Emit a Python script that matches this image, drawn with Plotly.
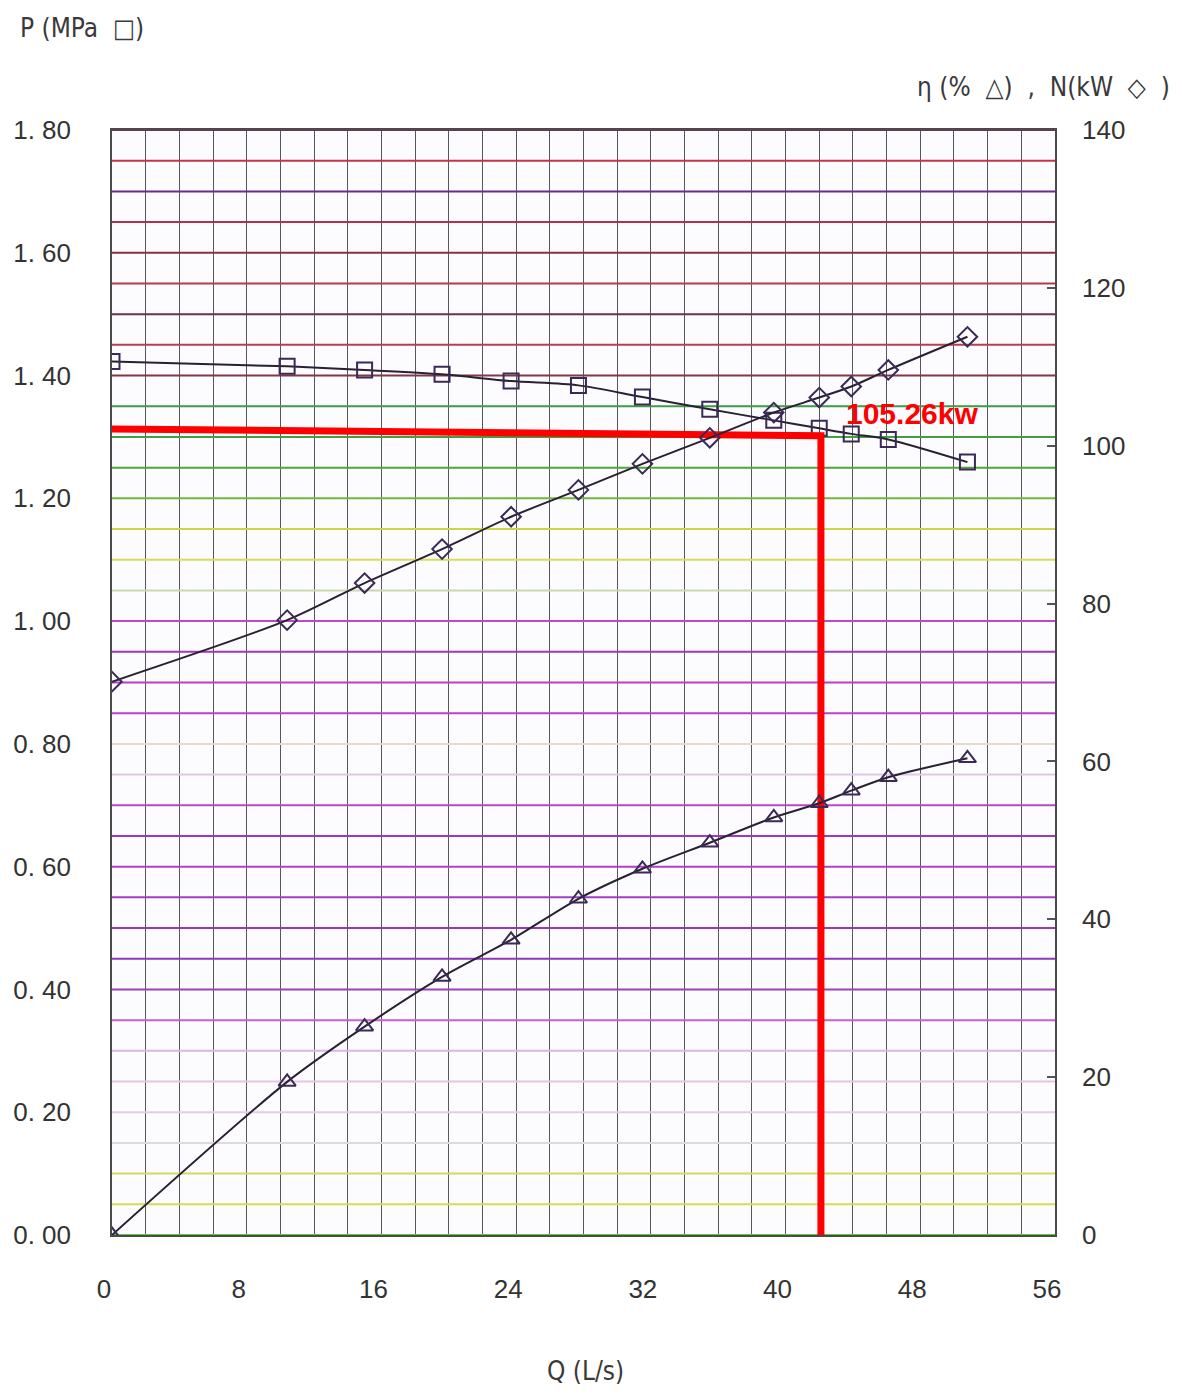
import numpy as np
import plotly.graph_objects as go

# ---- data ----
Q = [0, 10.4, 15.0, 19.6, 23.7, 27.7, 31.5, 35.5, 39.3, 42.0, 43.9, 46.1, 50.8]
P = [1.423, 1.415, 1.409, 1.402, 1.391, 1.384, 1.365, 1.345, 1.327, 1.314, 1.305, 1.296, 1.259]
N = [70.1, 77.9, 82.6, 86.9, 91.0, 94.4, 97.7, 101.0, 104.2, 106.1, 107.5, 109.6, 113.8]
ETA = [0, 19.4, 26.4, 32.7, 37.4, 42.6, 46.4, 49.7, 52.9, 54.7, 56.3, 58.0, 60.4]

# operating point guide
OP_X = [0, 42.1, 42.1]
OP_Y = [1.313, 1.302, 0.0]
OP_LABEL = "105.26kw"

X_TICKS = [0, 8, 16, 24, 32, 40, 48, 56]
Y_TICKS = [0.0, 0.2, 0.4, 0.6, 0.8, 1.0, 1.2, 1.4, 1.6, 1.8]
Y_TICK_TEXT = ["0. 00", "0. 20", "0. 40", "0. 60", "0. 80", "1. 00", "1. 20", "1. 40", "1. 60", "1. 80"]
Y2_TICKS = [0, 20, 40, 60, 80, 100, 120, 140]

# horizontal grid colours, bottom (0.00) to top (1.80), every 0.05
GRID_COLORS = [
    "#5cc83c", "#d6dc50", "#d4da5a", "#e0d8e0", "#e4cce6", "#e6c4e6", "#e0b4e4",
    "#c860d0", "#9a40b8", "#9038b8", "#9838b8", "#a040c0", "#b040c8", "#9c3cb8",
    "#b848c8", "#e0c8e4", "#e2dcc8", "#c040c8", "#b840c8", "#a038b8", "#c048c8",
    "#c8d8b0", "#d8dc58", "#c8d648", "#70b838", "#48a838", "#40a040", "#3c9c48",
    "#803848", "#b84050", "#6a3050", "#b83848", "#8a3040", "#b03050", "#6a2a8a",
    "#c8324a", "#7a2f5a",
]
GRID_LEVELS = np.round(np.arange(0, 1.80001, 0.05), 2)

LINE_C = "#2a2034"
MARK_C = "#3a2a55"
NB = "\u00a0"

fig = go.Figure()

for lvl, col in zip(GRID_LEVELS, GRID_COLORS):
    fig.add_shape(type="line", xref="x", yref="y", x0=0, x1=56, y0=lvl, y1=lvl,
                  line=dict(color=col, width=2), layer="between")

fig.add_trace(go.Scatter(x=Q, y=P, mode="lines+markers", yaxis="y",
                         line=dict(color=LINE_C, width=2, shape="spline", smoothing=0.8),
                         marker=dict(symbol="square-open", size=15, color=MARK_C, line=dict(width=2)),
                         showlegend=False))
fig.add_trace(go.Scatter(x=Q, y=N, mode="lines+markers", yaxis="y2",
                         line=dict(color=LINE_C, width=2, shape="spline", smoothing=0.8),
                         marker=dict(symbol="diamond-open", size=15, color=MARK_C, line=dict(width=2)),
                         showlegend=False))
fig.add_trace(go.Scatter(x=Q, y=ETA, mode="lines+markers", yaxis="y2",
                         line=dict(color=LINE_C, width=2, shape="spline", smoothing=0.8),
                         marker=dict(symbol="triangle-up-open", size=15, color=MARK_C, line=dict(width=2)),
                         showlegend=False))
fig.add_trace(go.Scatter(x=OP_X, y=OP_Y, mode="lines", yaxis="y",
                         line=dict(color="#ff0000", width=7), showlegend=False))

fig.add_annotation(x=47.5, y=1.339, xref="x", yref="y", text="<b>" + OP_LABEL + "</b>",
                   showarrow=False, font=dict(family="Liberation Sans, Arial", size=30, color="#ff0000"))

TITLE_FONT = dict(family="Liberation Sans Narrow, DejaVu Sans Condensed, Arial", size=26, color="#3a3a3a")
fig.add_annotation(x=(18 - 112) / 943, y=(1235 - 28) / 1105, xref="paper", yref="paper",
                   text="P (MPa" + NB + NB + "□)",
                   showarrow=False, xanchor="left", yanchor="middle", font=TITLE_FONT)
fig.add_annotation(x=(1172 - 112) / 943, y=(1235 - 87) / 1105, xref="paper", yref="paper",
                   text="η (%" + NB + NB + "△)" + NB + NB + "," + NB + NB + "N(kW" + NB + NB + "◇" + NB + NB + ")",
                   showarrow=False, xanchor="right", yanchor="middle", font=TITLE_FONT)
fig.add_annotation(x=(585 - 112) / 943, y=(1235 - 1371) / 1105, xref="paper", yref="paper",
                   text="Q (L/s)",
                   showarrow=False, xanchor="center", yanchor="middle", font=TITLE_FONT)

TICK_FONT = dict(family="Liberation Sans, Arial", size=26, color="#333333")

fig.update_layout(
    width=1166, height=1381,
    margin=dict(l=104, r=119, t=122, b=154, autoexpand=False),
    paper_bgcolor="#ffffff", plot_bgcolor="#fcfbfe",
    xaxis=dict(range=[0, 56], tickvals=X_TICKS, showgrid=True, gridcolor="#5a5460", gridwidth=1.3,
               minor=dict(dtick=2, showgrid=True, gridcolor="#5a5460", gridwidth=1.3),
               showline=True, mirror=True, linecolor="#4a4a4a", linewidth=1.6,
               zeroline=False, ticks="", tickfont=TICK_FONT, automargin=False,
               ticklabelstandoff=30, ticklabelshift=-8),
    yaxis=dict(range=[0, 1.8], tickvals=Y_TICKS, ticktext=Y_TICK_TEXT, showgrid=False,
               showline=True, mirror=True, linecolor="#4a4a4a", linewidth=1.6, automargin=False,
               zeroline=False, ticks="", tickfont=TICK_FONT, ticklabelstandoff=34),
    yaxis2=dict(range=[0, 140], tickvals=Y2_TICKS, overlaying="y", side="right", showgrid=False,
                zeroline=False, ticks="inside", ticklen=8, tickcolor="#555555", tickwidth=2,
                automargin=False, tickfont=TICK_FONT, ticklabelstandoff=26),
)

fig.write_html("out.html")
